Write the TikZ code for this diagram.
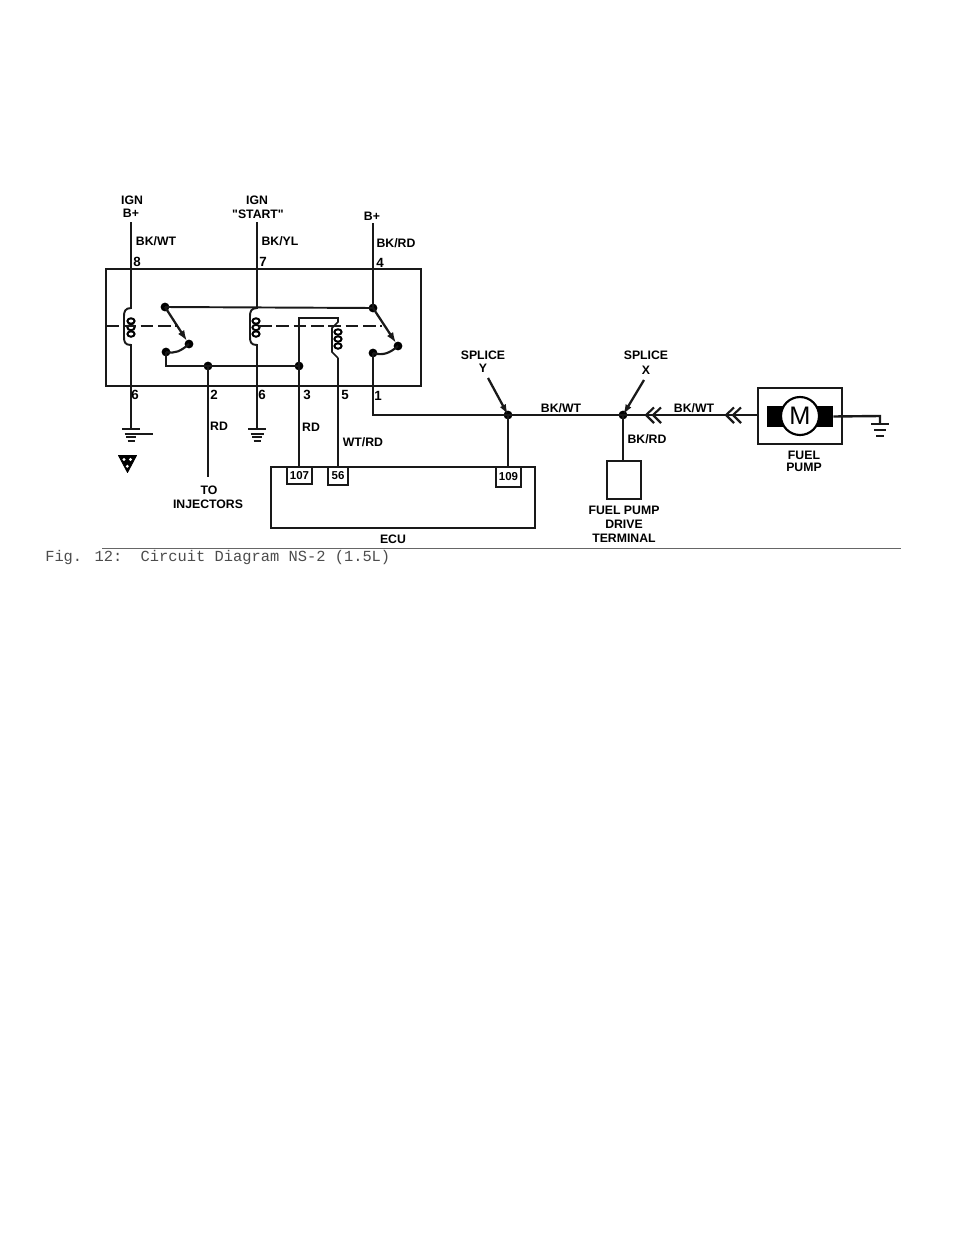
\documentclass[tikz,border=0pt]{standalone}
\usepackage{fontspec}
\setmainfont{Liberation Sans}
\newfontfamily\capfont{Liberation Mono}
\newfontfamily\quotefont{Liberation Sans}
\usetikzlibrary{arrows.meta}
\tikzset{
  wire/.style={line width=1.45pt,black!90},
  heavy/.style={line width=2.1pt,black!90},
  thinbox/.style={line width=1.5pt,black!90},
  dot/.style={circle,fill=black,inner sep=0pt,minimum size=6.6pt},
  lab/.style={font=\bfseries\fontsize{9.2}{10}\selectfont,inner sep=0pt,text=black},
  pin/.style={lab,font=\bfseries\fontsize{10}{11}\selectfont},
  conn/.style={draw,thinbox,inner sep=0pt,lab,font=\bfseries\fontsize{8.6}{9}\selectfont},
  bump/.style={line width=1.5pt,black},
  gnd/.style={line width=1.5pt,black!90},
  chev/.style={line width=1.6pt,black!90},
  spl/.style={line width=1.7pt,black!90,-{Latex[length=8pt,width=5pt]}},
}
\begin{document}
\begin{tikzpicture}[x=0.75pt,y=-0.75pt]
\useasboundingbox (0,0) rectangle (960,1242);
% relay box
\draw[heavy] (106,269) rectangle (421,386);
% named junctions
\node[dot] (sA) at (165,307) {};
\node[dot] (sB) at (373,308) {};
\node[dot] (sC) at (189,344) {};
\node[dot] (sD) at (166,352) {};
\node[dot] (sE) at (398,346) {};
\node[dot] (sF) at (373,353) {};
\node[dot] (j2) at (208,366) {};
\node[dot] (j3) at (299,366) {};
\node[dot] (spY) at (508,415) {};
\node[dot] (spX) at (623,415) {};
\coordinate (t1) at (131,222);
\coordinate (t2) at (257,222);
\coordinate (t3) at (373,223);
\coordinate (g1) at (131,429);
\coordinate (g2) at (257,429);
\coordinate (inj) at (208,477);
% wires
\draw[wire] (t1) -- (131,308) .. controls (125,308) and (124,312) .. (124,316) -- (124,337) .. controls (124,342) and (125,345) .. (131,345) -- (g1);
\draw[wire] (t2) -- (257,308) .. controls (251,308) and (250,312) .. (250,316) -- (250,337) .. controls (250,342) and (251,345) .. (257,345) -- (g2);
\draw[wire,line width=1.8pt] (t3) -- (sB.center);
\draw[wire] (sA.center) -- (sB.center);
\draw[wire,line width=1.7pt,-{Latex[length=8pt,width=5.5pt]}] (sA.center) -- (187,341);
\draw[wire,line width=1.7pt,-{Latex[length=8pt,width=5.5pt]}] (sB.center) -- (396,343);
\draw[wire,line width=1.6pt] (sD.center) .. controls (175,354) and (181,351) .. (sC.center);
\draw[wire,line width=1.6pt] (sF.center) .. controls (383,356) and (390,353) .. (sE.center);
\draw[wire] (sD.center) -- (166,366) -- (j2.center) -- (j3.center);
\draw[wire] (j2.center) -- (inj);
\draw[wire,line width=1.7pt] (sF.center) -- (373,415) -- (spY.center) -- (spX.center);
% coil bumps
\foreach \cx in {131,256}{
  \foreach \cy in {321,327.5,334}{
    \draw[bump] (\cx,\cy) ellipse (3.6 and 2.7);
  }
}
\foreach \cy in {332,339,346}{
  \draw[bump] (338,\cy) ellipse (3.6 and 2.7);
}
% third coil
\coordinate (c3b) at (338,467);
\draw[wire,line width=1.2pt] (j3.center) -- (299,318) -- (338,318) -- (338,322) -- (332,328) -- (332,352) -- (338,358);
\draw[wire] (338,358) -- (c3b);
\coordinate (ecu107) at (299,467);
\draw[wire] (j3.center) -- (ecu107);
% dashed
\draw[wire,line width=1.5pt,dash pattern=on 9.5pt off 3.5pt] (106,326) -- (178,326);
\draw[wire,line width=1.5pt,dash pattern=on 9.5pt off 3.5pt] (259,326) -- (382,326);
% ECU
\draw[heavy] (271,467) rectangle (535,528);
\node[conn,minimum width=18.75pt,minimum height=12.75pt] (c107) at (299.5,475.5) {107};
\node[conn,minimum width=15pt,minimum height=13.5pt] (c56) at (338,476) {56};
\node[conn,minimum width=18.75pt,minimum height=15pt] (c109) at (508.5,477) {109};
\draw[wire] (spY.center) -- (spY.center |- c109.north);
% grounds
\foreach \gx in {131,257}{
  \draw[gnd] (\gx-9,429) -- (\gx+9,429);
  \draw[gnd] (\gx-6.5,433.7) -- (\gx+6.5,433.7);
  \draw[gnd] (\gx-5,437.3) -- (\gx+5,437.3);
  \draw[gnd] (\gx-3.5,441.3) -- (\gx+3.5,441.3);
}
\draw[gnd] (131,433.7) -- (153,433.7);
\draw[gnd] (871,424) -- (889,424);
\draw[gnd] (874,429.5) -- (886,429.5);
\draw[gnd] (876,436) -- (884,436);
% triangle symbol
\draw[fill=black,line width=.6pt,line join=round] (118.5,455.5) -- (136.5,455.5) -- (127.5,472.5) -- cycle;
\fill[white] (124,459.5) circle (1.7) (130.5,459.5) circle (1.7) (127.3,466.3) circle (1.6);
% right part
\node[draw,heavy,rectangle,inner sep=0pt,minimum width=63pt,minimum height=42pt] (pump) at (800,416) {};
\node[draw,heavy,inner sep=0pt,minimum width=25.5pt,minimum height=28.5pt] (drive) at (624,480) {};
\node[fill=black,inner sep=0pt,minimum width=12pt,minimum height=15.75pt] (bl) at (775,416.5) {};
\node[fill=black,inner sep=0pt,minimum width=12pt,minimum height=15.75pt] (br) at (825,416.5) {};
\node[draw,circle,fill=white,line width=1.6pt,inner sep=0pt,minimum size=28.5pt,font=\fontsize{19}{20}\selectfont] (motor) at (800,416) {M};
\draw[wire,line width=1.6pt] (spX.center) -- (pump.west |- spX);
\draw[wire] (spX.center) -- (spX.center |- drive.north);
\coordinate (g3) at (880,424);
\draw[wire,line width=1.8pt] (br.east) -- (880,416) -- (g3);
% chevrons
\foreach \cx in {646,653,726,733}{
  \draw[chev] (\cx+8,407.5) -- (\cx,415) -- (\cx+8,423);
}
% splice arrows
\coordinate (ya) at (488,378);
\coordinate (xa) at (644,380);
\draw[spl] (ya) -- (spY.center);
\draw[spl] (xa) -- (spX.center);
% labels
\node[lab] at (132,200) {IGN};
\node[lab] at (131,213) {B+};
\node[lab] at (257,200) {IGN};
\node[lab] at (258,214) {{\quotefont\bfseries "}START{\quotefont\bfseries "}};
\node[lab] at (372,216) {B+};
\node[lab] at (156,241) {BK/WT};
\node[lab] at (280,241) {BK/YL};
\node[lab] at (396,243) {BK/RD};
\node[pin] at (137,262) {8};
\node[pin] at (263,262) {7};
\node[pin] at (380,263) {4};
\node[pin] at (135,395) {6};
\node[pin] at (214,395) {2};
\node[pin] at (262,395) {6};
\node[pin] at (307,395) {3};
\node[pin] at (345,395) {5};
\node[pin] at (378,396) {1};
\node[lab] at (219,426) {RD};
\node[lab] at (311,427) {RD};
\node[lab] at (363,442) {WT/RD};
\node[lab] at (209,490) {TO};
\node[lab] at (208,504) {INJECTORS};
\node[lab] at (393,539) {ECU};
\node[lab] at (483,355) {SPLICE};
\node[lab] at (483,368) {Y};
\node[lab] at (646,355) {SPLICE};
\node[lab] at (646,370) {X};
\node[lab] at (561,408) {BK/WT};
\node[lab] at (694,408) {BK/WT};
\node[lab] at (647,439) {BK/RD};
\node[lab] at (624,510) {FUEL PUMP};
\node[lab] at (624,524) {DRIVE};
\node[lab] at (624,538) {TERMINAL};
\node[lab] at (804,455) {FUEL};
\node[lab] at (804,467) {PUMP};
% rule and caption
\coordinate (ruleL) at (102,548.5);
\coordinate (ruleR) at (901,548.5);
\draw[line width=.75pt,black!60] (ruleL) -- (ruleR);
\node[anchor=west,inner sep=0pt,text=black!70,font=\capfont\fontsize{11.55}{12}\selectfont] (cap) at (45,558) {Fig. 12:\ \ Circuit Diagram NS-2 (1.5L)};
\end{tikzpicture}
\end{document}
